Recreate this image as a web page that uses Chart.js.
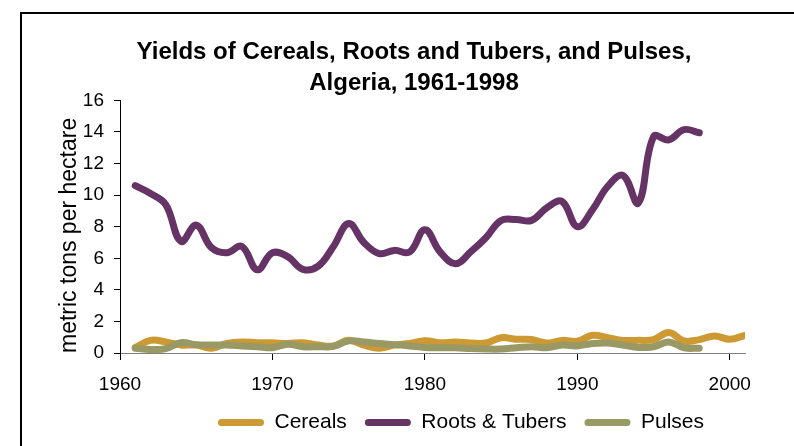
<!DOCTYPE html>
<html>
<head>
<meta charset="utf-8">
<script src="https://cdn.jsdelivr.net/npm/chart.js@4.4.1/dist/chart.umd.min.js"></script>
<style>
  body { margin: 0; background: #fff; overflow: hidden; }
  #frame { position: absolute; left: 20px; top: 12px; width: 900px; height: 500px;
           border-left: 2px solid #000; border-top: 2px solid #000; }
  #wrap { position: absolute; left: 0; top: 0; width: 794px; height: 446px; }
</style>
</head>
<body>
<div id="frame"></div>
<div id="wrap"><canvas id="myChart"></canvas></div>
<script>
const years = [1961,1962,1963,1964,1965,1966,1967,1968,1969,1970,
               1971,1972,1973,1974,1975,1976,1977,1978,1979,1980,
               1981,1982,1983,1984,1985,1986,1987,1988,1989,1990,
               1991,1992,1993,1994,1995,1996,1997,1998,1999,2000,2001];

// metric tons per hectare
const cereals = [0.35,0.8,0.7,0.5,0.5,0.3,0.6,0.7,0.65,0.65,
                 0.6,0.65,0.5,0.45,0.8,0.5,0.3,0.5,0.6,0.77,
                 0.65,0.7,0.63,0.63,0.97,0.87,0.85,0.63,0.8,0.74,
                 1.12,0.97,0.8,0.8,0.85,1.3,0.76,0.85,1.08,0.87,1.12];
const roots = [10.6,10.1,9.4,7.07,8.1,6.67,6.35,6.75,5.27,6.35,
               6.1,5.3,5.5,6.75,8.2,7.0,6.3,6.5,6.4,7.8,
               6.4,5.65,6.4,7.3,8.4,8.45,8.4,9.2,9.6,8.0,
               9.08,10.56,11.24,9.5,13.7,13.5,14.15,13.95];
const pulses = [0.3,0.22,0.28,0.65,0.53,0.5,0.5,0.45,0.4,0.33,
                0.55,0.4,0.4,0.42,0.77,0.7,0.6,0.53,0.45,0.35,
                0.33,0.33,0.28,0.25,0.25,0.33,0.4,0.33,0.5,0.45,
                0.6,0.63,0.5,0.35,0.4,0.7,0.33,0.3];
const xTicks = [1960,1970,1980,1990,2000];

const font = "'Liberation Sans', Arial, sans-serif";

function pts(vals) {
  return vals.map((v, i) => ({x: years[i], y: v}));
}

// nudge title and legend to where they sit in the original
const shiftBlocks = {
  id: 'shiftBlocks',
  afterLayout(chart) {
    const t = chart.titleBlock;
    const dT = 414 - (t.left + t.right) / 2;
    t.left += dT; t.right += dT;
    const l = chart.legend;
    const dL = 461 - (l.left + l.right) / 2;
    l.left += dL; l.right += dL;
  }
};

const line = (label, vals, color, order) => ({
  label: label,
  data: pts(vals),
  borderColor: color,
  backgroundColor: color,
  borderWidth: 7,
  pointRadius: 0,
  tension: 0.4,
  borderCapStyle: 'round',
  borderJoinStyle: 'round',
  fill: false,
  order: order
});

const config = {
  type: 'line',
  data: {
    datasets: [
      line('Cereals', cereals, '#CC9933', 2),
      line('Roots & Tubers', roots, '#663366', 1),
      line('Pulses', pulses, '#999966', 0)
    ]
  },
  options: {
    responsive: true,
    maintainAspectRatio: false,
    animation: false,
    layout: { padding: { top: 37, left: 58, right: 49, bottom: 3 } },
    plugins: {
      title: {
        display: true,
        text: ['Yields of Cereals, Roots and Tubers, and Pulses,', 'Algeria, 1961-1998'],
        color: '#000',
        font: { family: font, size: 24, weight: 'bold', lineHeight: 1.3 },
        padding: { top: 0, bottom: 1 }
      },
      legend: {
        position: 'bottom',
        labels: {
          color: '#000',
          font: { family: font, size: 21 },
          boxWidth: 46,
          boxHeight: 7,
          padding: 18,
          useBorderRadius: true,
          borderRadius: 3.5,
          sort: (a, b) => a.datasetIndex - b.datasetIndex,
          generateLabels: c => Chart.defaults.plugins.legend.labels.generateLabels(c)
            .map(i => Object.assign(i, { lineWidth: 0 }))
        }
      },
      tooltip: { enabled: false }
    },
    scales: {
      x: {
        type: 'linear',
        min: 1960,
        max: 2001,
        afterBuildTicks: s => { s.ticks = xTicks.map(v => ({ value: v })); },
        afterFit: s => { s.height = 41; },
        grid: { drawOnChartArea: false, drawTicks: true, tickLength: 7, color: '#000' },
        border: { color: '#808080', width: 1 },
        ticks: { color: '#000', font: { family: font, size: 19 }, padding: 13,
                 maxRotation: 0, callback: v => String(v) }
      },
      y: {
        min: 0,
        max: 16,
        afterFit: s => { s.width = 62; },
        grid: { drawOnChartArea: false, drawTicks: true, tickLength: 6, color: '#000' },
        border: { color: '#000', width: 1 },
        ticks: { stepSize: 2, color: '#000', font: { family: font, size: 19 }, padding: 10 },
        title: {
          display: true,
          text: 'metric tons per hectare',
          align: 'start',
          color: '#000',
          font: { family: font, size: 23, lineHeight: 1 },
          padding: { top: 0, bottom: 2 }
        }
      }
    }
  },
  plugins: [shiftBlocks]
};

const myChart = new Chart(document.getElementById('myChart'), config);
</script>
</body>
</html>
